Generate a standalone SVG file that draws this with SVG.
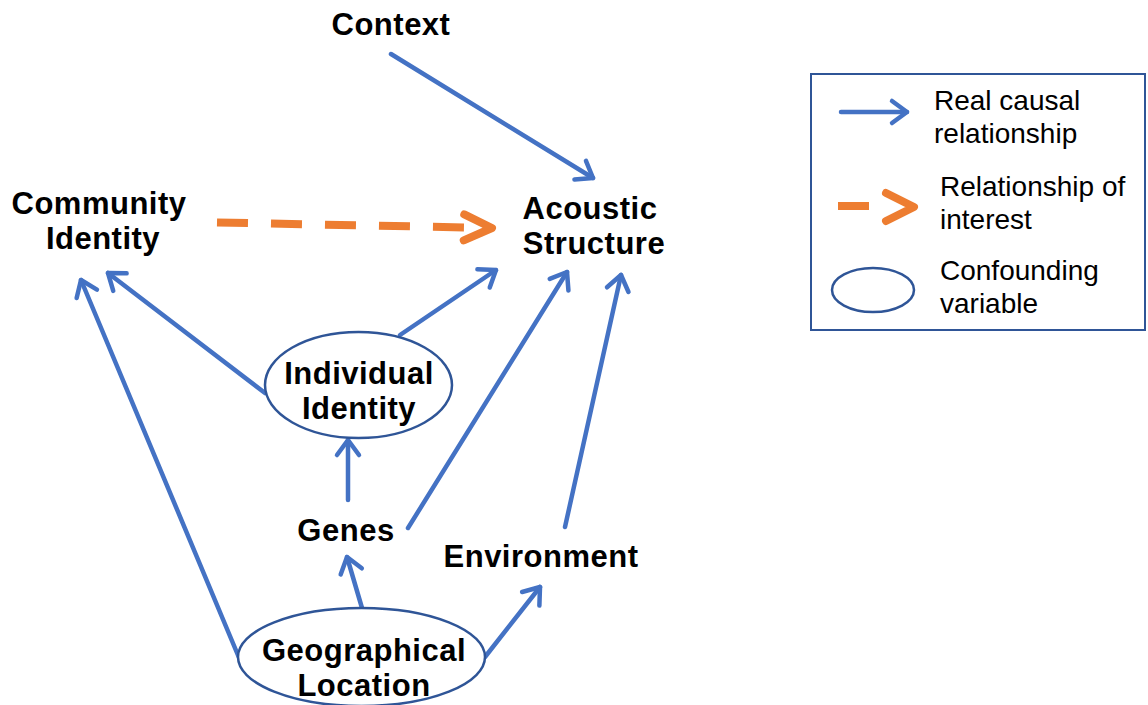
<svg xmlns="http://www.w3.org/2000/svg" width="1148" height="705" viewBox="0 0 1148 705">
<style>
.lbl{font-family:"Liberation Sans",Arial,sans-serif;font-weight:bold;font-size:31px;letter-spacing:0.5px;fill:#000}
.leg{font-family:"Liberation Sans",Arial,sans-serif;font-size:28px;fill:#000}
.blue{stroke:#4472C4;stroke-width:4.5;fill:none;stroke-linecap:round}
.orange{stroke:#ED7D31;stroke-width:8;fill:none;stroke-dasharray:31 23}
.ell{fill:#fff;stroke:#2F5597;stroke-width:2.5}
.hb{stroke:#4472C4;stroke-width:4.5;fill:none;stroke-linecap:round;stroke-linejoin:round}
.ho{stroke:#ED7D31;stroke-width:8;fill:none;stroke-linecap:round;stroke-linejoin:round;stroke-dasharray:none}
</style>
<defs>
<marker id="ab" markerUnits="userSpaceOnUse" viewBox="-30 -20 40 40" markerWidth="40" markerHeight="40" refX="0" refY="0" orient="auto" overflow="visible">
<path class="hb" d="M-15,-11 L0,0 L-15,11"/>
</marker>
<marker id="ao" markerUnits="userSpaceOnUse" viewBox="-40 -20 50 40" markerWidth="50" markerHeight="40" refX="0" refY="0" orient="auto" overflow="visible">
<path class="ho" d="M-28,-13 L0,0 L-28,13"/>
</marker>
</defs>
<g id="connectors">
<line class="blue" x1="391" y1="54" x2="593" y2="178" marker-end="url(#ab)"/>
<line class="blue" x1="400" y1="335" x2="496" y2="270" marker-end="url(#ab)"/>
<line class="blue" x1="265" y1="393" x2="108" y2="273" marker-end="url(#ab)"/>
<line class="blue" x1="348" y1="500" x2="348" y2="440" marker-end="url(#ab)"/>
<line class="blue" x1="408" y1="528" x2="567" y2="272" marker-end="url(#ab)"/>
<line class="blue" x1="565" y1="527" x2="621" y2="275" marker-end="url(#ab)"/>
<line class="blue" x1="240" y1="660" x2="81" y2="280" marker-end="url(#ab)"/>
<line class="blue" x1="362" y1="608" x2="347" y2="557" marker-end="url(#ab)"/>
<line class="blue" x1="485" y1="657" x2="540" y2="587" marker-end="url(#ab)"/>
<line class="orange" x1="217" y1="222.5" x2="492" y2="228" marker-end="url(#ao)"/>
</g>
<g id="context"><text class="lbl" x="391" y="35" text-anchor="middle">Context</text></g>
<g id="community"><text class="lbl" x="99" y="214" text-anchor="middle">Community</text><text class="lbl" x="103" y="249" text-anchor="middle">Identity</text></g>
<g id="acoustic"><text class="lbl" x="590" y="219" text-anchor="middle">Acoustic</text><text class="lbl" x="594" y="254" text-anchor="middle">Structure</text></g>
<g id="individual"><ellipse class="ell" cx="358.5" cy="385" rx="93.5" ry="53"/><text class="lbl" x="359" y="384" text-anchor="middle">Individual</text><text class="lbl" x="359" y="419" text-anchor="middle">Identity</text></g>
<g id="genes"><text class="lbl" x="346" y="541" text-anchor="middle">Genes</text></g>
<g id="environment"><text class="lbl" x="541" y="567" text-anchor="middle">Environment</text></g>
<g id="geo"><ellipse class="ell" cx="361.5" cy="657" rx="123.5" ry="49"/><text class="lbl" x="364" y="661" text-anchor="middle">Geographical</text><text class="lbl" x="364" y="696" text-anchor="middle">Location</text></g>
<g id="legend">
<rect x="811" y="74" width="334" height="256" fill="#fff" stroke="#2F5597" stroke-width="2"/>
<line class="blue" x1="841" y1="112" x2="907" y2="112" marker-end="url(#ab)"/>
<text class="leg" x="934" y="110">Real causal</text><text class="leg" x="934" y="143">relationship</text>
<line class="orange" x1="838" y1="206" x2="869" y2="206" stroke-dasharray="none"/>
<path class="ho" d="M886,193 L914,207 L886,221"/>
<text class="leg" x="940" y="196">Relationship of</text><text class="leg" x="940" y="229">interest</text>
<ellipse class="ell" cx="873" cy="290" rx="41" ry="22"/>
<text class="leg" x="940" y="280">Confounding</text><text class="leg" x="940" y="313">variable</text>
</g>
</svg>
